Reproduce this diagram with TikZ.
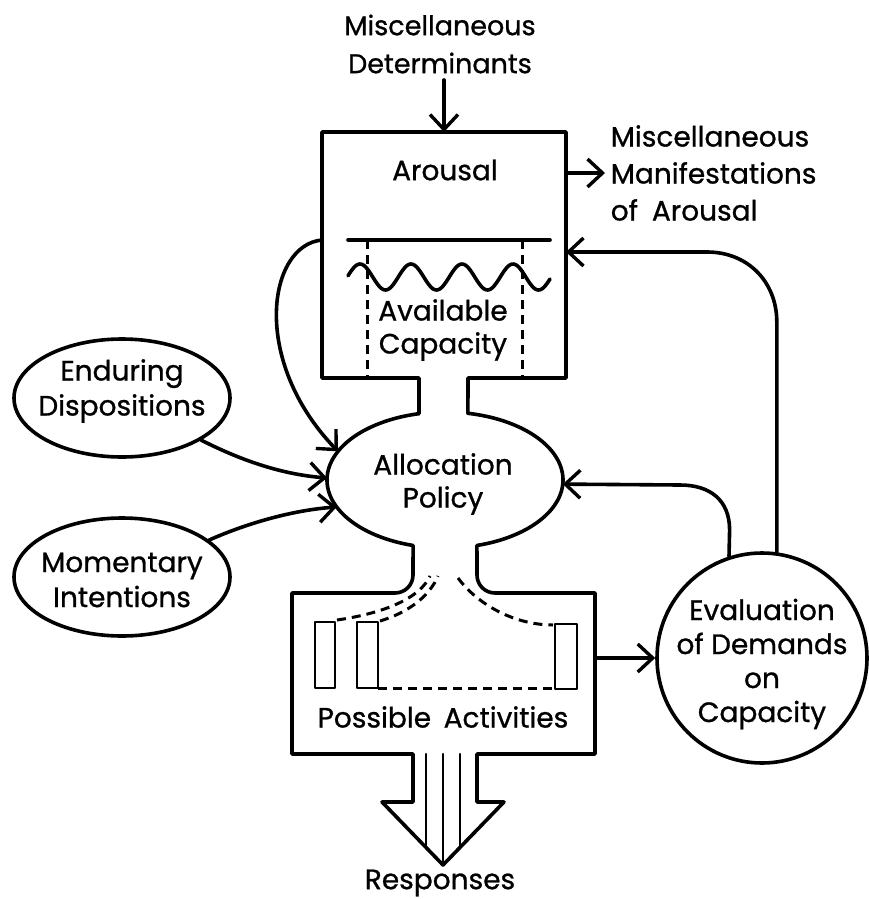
\documentclass[tikz,border=0pt]{standalone}
\usepackage{fontspec}
\setmainfont{Poppins}[FakeBold=0.9]
\usetikzlibrary{arrows.meta,shapes.geometric}
\begin{document}
\begin{tikzpicture}[x=1pt,y=-1pt,
  line width=3.6pt, line join=round, line cap=round,
  arr/.style={-{Straight Barb[length=15pt,width=28pt,line width=3.4pt]}},
  lbl/.style={font=\fontsize{28}{37}\selectfont, align=center, inner sep=0pt},
  dsh/.style={line width=3pt, dash pattern=on 9pt off 6pt, line cap=butt},
  thin/.style={line width=2.4pt},
  oval/.style={ellipse, draw, minimum width=216pt, minimum height=118pt, inner sep=0pt},
  ghost/.style={inner sep=0pt, outer sep=0pt}
]
\useasboundingbox (0,0) rectangle (869,899);

% invisible reference nodes
\node[ghost, minimum width=244pt, minimum height=246pt] (ar) at (444,255) {};
\node[ghost, ellipse, minimum width=236pt, minimum height=136pt] (ap) at (445,480) {};
\node[ghost, minimum width=303pt, minimum height=161pt] (pa) at (444,673.5) {};

% main outline: arousal box, necks, allocation ellipse, activities box, response arrow
\draw (419,413.7) -- (419,378) -- (322,378) -- (322,132) -- (566,132) -- (566,378) -- (468,378) -- (467.9,413.3)
  -- plot[domain=281.2:434.3, samples=80] ({445+118*cos(\x)},{480+68*sin(\x)})
  -- (477,575) .. controls (477,585) and (485,593) .. (495,593) -- (595,593) -- (595,754)
  -- (477,754) -- (477,802) -- (504,802) -- (443,865) -- (382,802) -- (413,802) -- (413,754)
  -- (292,754) -- (292,593) -- (395,593) .. controls (405,593) and (413,585) .. (413,575)
  -- plot[domain=105.7:257.3, samples=80] ({445+118*cos(\x)},{480+68*sin(\x)}) -- cycle;

% response arrow inner lines
\draw[thin] (426,754) -- (426,847);
\draw[thin] (443,754) -- (443,865);
\draw[thin] (460,754) -- (460,847);

% arousal interior
\draw (348,240) -- (550,240);
\draw plot[domain=348:550, samples=140, smooth] (\x, {277-13*cos(7.0588*(\x-360))});
\draw[dsh] (367,240) -- (367,378);
\draw[dsh] (522,240) -- (522,378);

% activities interior
\draw[line width=2.8pt] (315,622) rectangle (335,688);
\draw[line width=2.8pt] (357,622) rectangle (378,688);
\draw[line width=2.8pt] (555,624) rectangle (577,689);
\draw[dsh] (378,688) -- (555,688);
\draw[dsh] (337,620) .. controls (385,613) and (420,598) .. (430,576);
\draw[dsh] (380,621) .. controls (410,612) and (430,595) .. (438,576);
\draw[dsh] (458,578) .. controls (478,605) and (515,625) .. (553,625);

% other nodes
\node[circle, draw, minimum size=210pt, inner sep=0pt] (ev) at (762,658) {};
\node[oval] (ed) at (122,398) {};
\node[oval] (mi) at (122,577) {};

% labels
\node[lbl, font=\fontsize{27}{38}\selectfont] (md) at (440,44) {Miscellaneous\\Determinants};
\node[lbl, align=left, anchor=west] (mm) at (609,173) {Miscellaneous\\Manifestations\\of\hspace{0.5em}Arousal};
\node[lbl] (arl) at (445,170) {Arousal};
\node[lbl, font=\fontsize{28}{33}\selectfont] (avl) at (443,330) {Available\\Capacity};
\node[lbl, font=\fontsize{28}{33}\selectfont] (apl) at (443,484) {Allocation\\Policy};
\node[lbl] (pal) at (443,717) {Possible\hspace{0.45em}Activities};
\node[lbl] (resp) at (440,883) {Responses};
\node[lbl, font=\fontsize{28}{34}\selectfont] (evl) at (762,664) {Evaluation\\of Demands\\on\\Capacity};
\node[lbl, font=\fontsize{28}{35}\selectfont] (edl) at (122,391) {Enduring\\Dispositions};
\node[lbl, font=\fontsize{28}{35}\selectfont] (mil) at (122,580) {Momentary\\Intentions};

% connector end points on box sides
\coordinate (mdS) at (444,80);
\coordinate (arR) at (566,173);
\coordinate (mmW) at (605,173);
\coordinate (arIn) at (566,252);
\coordinate (arL) at (322,240);
\coordinate (paR) at (595,658);

% connectors
\draw[arr] (mdS) -- (ar.north);
\draw[arr] (arR) -- (mmW);
\draw[arr] (arL) .. controls (268,245) and (250,360) .. (ap.165.5);
\draw[arr] (ed.-28) .. controls (250,465) and (290,475) .. (ap.179);
\draw[arr] (mi.23) .. controls (250,522) and (295,510) .. (ap.194);
\draw[arr] (paR) -- (ev.west);
\draw[arr] (ev.108) -- (729.6,530) .. controls (729.6,500) and (710,485) .. (680,485) -- (ap.-2.4);
\draw[arr] (ev.82) -- (776.8,322) .. controls (776.8,282) and (748,252) .. (707,252) -- (arIn);
\end{tikzpicture}
\end{document}
